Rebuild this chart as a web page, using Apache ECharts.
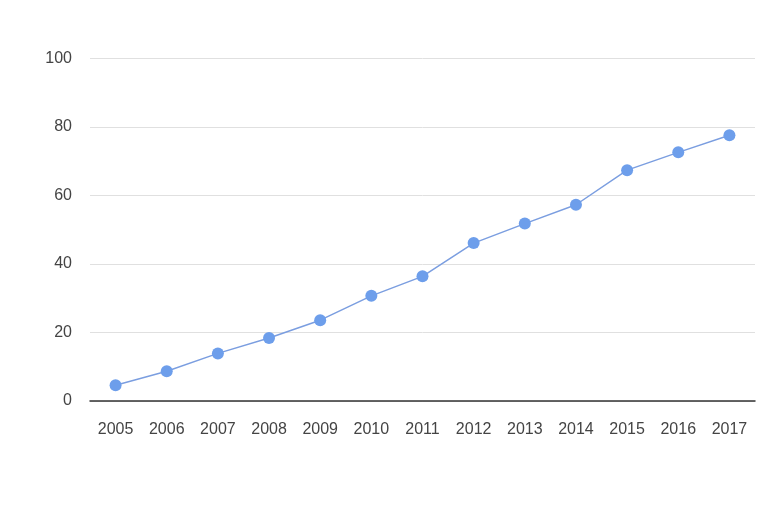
<!DOCTYPE html>
<html><head><meta charset="utf-8">
<script src="https://cdn.jsdelivr.net/npm/echarts@6/dist/echarts.min.js"></script>
<style>html,body{margin:0;padding:0;background:#fff}#c{width:768px;height:512px}</style>
</head><body><div id="c"></div>
<script>
const years = ['2005','2006','2007','2008','2009','2010','2011','2012','2013','2014','2015','2016','2017'];
const values = [4.6, 8.7, 13.9, 18.4, 23.6, 30.7, 36.4, 46.1, 51.8, 57.3, 67.4, 72.6, 77.6];
const chart = echarts.init(document.getElementById('c'), null, {renderer:'canvas'});
chart.setOption({
  animation: false,
  grid: {left: 90, right: 13, top: 58.5, bottom: 111},
  xAxis: {
    type: 'category', data: years, boundaryGap: true,
    axisLine: {lineStyle: {color: '#333', width: 1.5}},
    axisTick: {show: false},
    axisLabel: {color: '#444', fontSize: 16, fontFamily: '"Liberation Sans", Arial, sans-serif', margin: 21}
  },
  yAxis: {
    type: 'value', min: 0, max: 100, interval: 20,
    axisLine: {show: false}, axisTick: {show: false},
    splitLine: {lineStyle: {color: '#e0e0e0', width: 1}},
    axisLabel: {color: '#444', fontSize: 16, fontFamily: '"Liberation Sans", Arial, sans-serif', margin: 18}
  },
  series: [{
    type: 'line', data: values,
    symbol: 'circle', symbolSize: 12,
    lineStyle: {color: '#7b9ee0', width: 1.5},
    itemStyle: {color: '#6d9eeb'}
  }]
});
</script></body></html>
